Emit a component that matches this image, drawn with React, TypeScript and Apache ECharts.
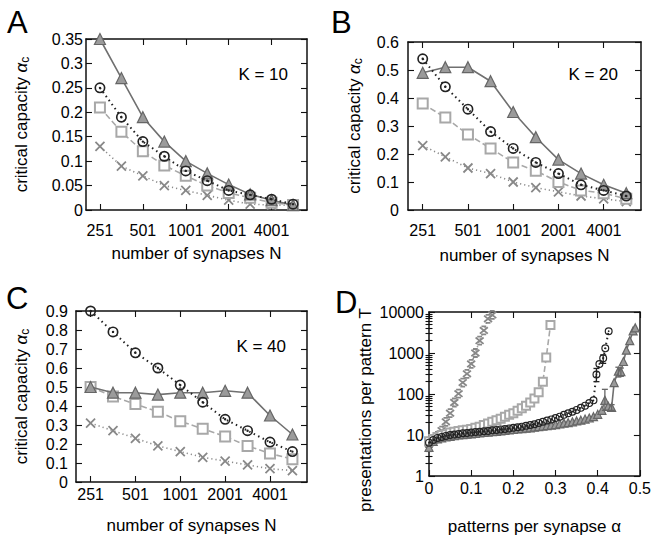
import React, { useEffect, useRef } from "react";
import * as echarts from "echarts";

// ---------- data ----------
const nCategories = ["251", "355", "501", "709", "1001", "1415", "2001", "2829", "4001", "5657"];
const nTickIndex = [0, 2, 4, 6, 8];

// Panel A (K = 10)
const aTri = [0.35, 0.27, 0.19, 0.14, 0.1, 0.075, 0.052, 0.032, 0.02, 0.01];
const aCirc = [0.25, 0.19, 0.14, 0.11, 0.08, 0.06, 0.04, 0.031, 0.022, 0.012];
const aSq = [0.21, 0.16, 0.12, 0.091, 0.07, 0.05, 0.035, 0.025, 0.015, 0.01];
const aCross = [0.13, 0.09, 0.07, 0.05, 0.04, 0.03, 0.02, 0.012, 0.01, 0.01];

// Panel B (K = 20)
const bTri = [0.49, 0.51, 0.51, 0.46, 0.35, 0.26, 0.18, 0.13, 0.09, 0.06];
const bCirc = [0.54, 0.44, 0.36, 0.28, 0.22, 0.17, 0.13, 0.09, 0.07, 0.05];
const bSq = [0.38, 0.33, 0.27, 0.22, 0.17, 0.14, 0.1, 0.07, 0.06, 0.04];
const bCross = [0.23, 0.19, 0.15, 0.13, 0.1, 0.08, 0.065, 0.05, 0.04, 0.03];

// Panel C (K = 40)
const cTri = [0.5, 0.47, 0.47, 0.46, 0.47, 0.47, 0.48, 0.47, 0.35, 0.25];
const cCirc = [0.9, 0.79, 0.68, 0.6, 0.51, 0.42, 0.33, 0.27, 0.21, 0.16];
const cSq = [0.5, 0.45, 0.41, 0.37, 0.32, 0.28, 0.24, 0.19, 0.15, 0.12];
const cCross = [0.31, 0.27, 0.23, 0.19, 0.16, 0.13, 0.11, 0.09, 0.07, 0.06];

// Panel D: [alpha, T]
const dCross = [
  [0, 6], [0.01, 7.5], [0.02, 9.5], [0.03, 12.8], [0.04, 21], [0.05, 34], [0.06, 62],
  [0.07, 102], [0.08, 190], [0.09, 310], [0.1, 540], [0.11, 1000], [0.12, 2000],
  [0.13, 3550], [0.14, 6800], [0.15, 8500],
];
const dSq = [
  [0, 7], [0.01, 8], [0.02, 9], [0.03, 10], [0.04, 10.5], [0.05, 11.5], [0.06, 12],
  [0.07, 12.5], [0.08, 13], [0.09, 13.5], [0.1, 14], [0.11, 15], [0.12, 16], [0.13, 17.5],
  [0.14, 19], [0.15, 21], [0.16, 23], [0.17, 25], [0.18, 28], [0.19, 31], [0.2, 34],
  [0.21, 39], [0.22, 45], [0.23, 52], [0.24, 62], [0.25, 78], [0.26, 110], [0.27, 200],
  [0.278, 780], [0.288, 4800],
];
const dCirc = [
  [0, 6.5], [0.01, 7.5], [0.02, 8.5], [0.03, 9], [0.04, 9.5], [0.05, 10], [0.06, 10.3],
  [0.07, 10.6], [0.08, 11], [0.09, 11.2], [0.1, 11.5], [0.11, 11.8], [0.12, 12], [0.13, 12.3],
  [0.14, 12.6], [0.15, 13], [0.16, 13.3], [0.17, 13.7], [0.18, 14], [0.19, 14.5], [0.2, 15],
  [0.21, 15.5], [0.22, 16], [0.23, 16.7], [0.24, 17.5], [0.25, 18.3], [0.26, 19.5], [0.27, 21],
  [0.28, 22.5], [0.29, 24], [0.3, 26], [0.31, 28], [0.32, 31], [0.33, 34], [0.34, 37],
  [0.35, 41], [0.36, 46], [0.37, 52], [0.38, 60], [0.39, 70], [0.397, 300], [0.404, 540],
  [0.413, 740], [0.418, 1300], [0.426, 3400],
];
const dTri = [
  [0, 5], [0.01, 7], [0.02, 8], [0.03, 8.5], [0.04, 9], [0.05, 9.3], [0.06, 9.6], [0.07, 10],
  [0.08, 10.2], [0.09, 10.5], [0.1, 10.7], [0.11, 11], [0.12, 11.2], [0.13, 11.5], [0.14, 11.8],
  [0.15, 12], [0.16, 12.3], [0.17, 12.6], [0.18, 13], [0.19, 13.3], [0.2, 13.6], [0.21, 14],
  [0.22, 14.3], [0.23, 14.7], [0.24, 15], [0.25, 15.5], [0.26, 16], [0.27, 16.5], [0.28, 17],
  [0.29, 17.5], [0.3, 18], [0.31, 18.7], [0.32, 19.5], [0.33, 20], [0.34, 21], [0.35, 22],
  [0.36, 23], [0.37, 24.5], [0.38, 26], [0.39, 28], [0.4, 32], [0.41, 40], [0.417, 70],
  [0.425, 50], [0.433, 47], [0.439, 190], [0.449, 360], [0.455, 350], [0.461, 620],
  [0.468, 1170], [0.476, 2000], [0.484, 3450], [0.489, 4100],
];
const dTriErr = [
  [0.417, 40, 130], [0.449, 260, 450], [0.455, 270, 430], [0.433, 40, 55],
];
const dCircErr = [
  [0.397, 200, 420], [0.413, 560, 900],
];

const dYTicks = [1, 10, 100, 1000, 10000];
const dYMinor = [2, 3, 4, 5, 6, 7, 8, 9, 20, 30, 40, 50, 60, 70, 80, 90, 200, 300, 400, 500, 600, 700, 800, 900, 2000, 3000, 4000, 5000, 6000, 7000, 8000, 9000];

// ---------- styles ----------
const FONT = "'Liberation Sans', Arial, Helvetica, sans-serif";
const AX = "#111";
const TICK_FS = 16;
const NAME_FS = 17;

const RING_DOT =
  "path://M10 0 A10 10 0 1 1 10 20 A10 10 0 1 1 10 0 Z M10 3 A7 7 0 1 0 10 17 A7 7 0 1 0 10 3 Z M10 7.8 A2.2 2.2 0 1 1 10 12.2 A2.2 2.2 0 1 1 10 7.8 Z";
const CROSS = "path://M0 0 L10 10 M10 0 L0 10";
const CROSS_BAR = "path://M0 1 L10 9 M10 1 L0 9 M2 0 L8 0 M2 10 L8 10";

const triStyle = (size: number) => ({
  symbol: "triangle",
  symbolSize: size,
  itemStyle: { color: "#9b9b9b", borderColor: "#666", borderWidth: 1.2 },
  lineStyle: { color: "#707070", width: 1.6, type: "solid" },
});
const circStyle = (size: number) => ({
  symbol: RING_DOT,
  symbolSize: size,
  itemStyle: { color: "#222" },
  lineStyle: { color: "#222", width: 2, type: [1.5, 3.5] },
});
const sqStyle = (size: number) => ({
  symbol: "emptyRect",
  symbolSize: size,
  itemStyle: { color: "#a8a8a8", borderWidth: 1.8 },
  lineStyle: { color: "#a8a8a8", width: 1.6, type: [6, 3] },
});
const crossStyle = (size: number, sym: string) => ({
  symbol: sym,
  symbolSize: size,
  itemStyle: { color: "#888", borderColor: "#888", borderWidth: 1.8 },
  lineStyle: { color: "#8a8a8a", width: 1.6, type: [1.2, 3] },
});

const lineAxis = { show: true, onZero: false, lineStyle: { color: AX, width: 1.5 } };
const tickBase = { show: true, inside: true, length: 6, lineStyle: { color: AX, width: 1.1 } };
const labelBase = { color: "#000", fontSize: TICK_FS, fontFamily: FONT };

const yNameRich = {
  fontFamily: FONT,
  color: "#000",
  rich: {
    t: { fontSize: NAME_FS, fontFamily: FONT, color: "#000", lineHeight: 20 },
    a: { fontSize: NAME_FS, fontFamily: FONT, color: "#000", fontStyle: "italic", lineHeight: 20 },
    s: { fontSize: 12, fontFamily: FONT, color: "#000", lineHeight: 12, verticalAlign: "bottom" },
  },
};

function catPanel(
  g: number,
  yMax: number,
  yInterval: number,
  yLabelMargin: number,
  xLabelMargin: number,
  xNameGap: number,
  yNameGap: number
) {
  const xAxes = [
    {
      type: "value",
      gridIndex: g,
      min: -0.65,
      max: 9.65,
      position: "bottom",
      axisLine: lineAxis,
      axisTick: { ...tickBase, customValues: nTickIndex },
      axisLabel: {
        ...labelBase,
        margin: xLabelMargin,
        customValues: nTickIndex,
        formatter: (v: number) => nCategories[Math.round(v)],
      },
      splitLine: { show: false },
      name: "number of synapses N",
      nameLocation: "middle",
      nameGap: xNameGap,
      nameTextStyle: { fontSize: NAME_FS, fontFamily: FONT, color: "#000" },
    },
    {
      type: "value",
      gridIndex: g,
      min: -0.65,
      max: 9.65,
      position: "top",
      axisLine: lineAxis,
      axisTick: { ...tickBase, customValues: nTickIndex },
      axisLabel: { show: false },
      splitLine: { show: false },
    },
  ];
  const yAxes = [
    {
      type: "value",
      gridIndex: g,
      min: 0,
      max: yMax,
      interval: yInterval,
      position: "left",
      axisLine: lineAxis,
      axisTick: tickBase,
      axisLabel: { ...labelBase, margin: yLabelMargin },
      splitLine: { show: false },
      name: "{t|critical capacity }{a|α}{s|c}",
      nameLocation: "middle",
      nameRotate: 90,
      nameGap: yNameGap,
      nameTextStyle: yNameRich,
    },
    {
      type: "value",
      gridIndex: g,
      min: 0,
      max: yMax,
      interval: yInterval,
      position: "right",
      axisLine: lineAxis,
      axisTick: tickBase,
      axisLabel: { show: false },
      splitLine: { show: false },
    },
  ];
  return { xAxes, yAxes };
}

function catSeries(g: number, tri: number[], circ: number[], sq: number[], cross: number[]) {
  const toPts = (arr: number[]) => arr.map((v, i) => [i, v]);
  const base = { type: "line", xAxisIndex: 2 * g, yAxisIndex: 2 * g, silent: true };
  return [
    { ...base, name: "cross", data: toPts(cross), ...crossStyle(9, CROSS), z: 2 },
    { ...base, name: "square", data: toPts(sq), ...sqStyle(10), z: 3 },
    { ...base, name: "triangle", data: toPts(tri), ...triStyle(11), z: 4 },
    { ...base, name: "circle", data: toPts(circ), ...circStyle(11), z: 5 },
  ];
}

function errSeries(data: number[][], color: string) {
  return {
    type: "custom",
    xAxisIndex: 6,
    yAxisIndex: 6,
    silent: true,
    z: 6,
    data,
    encode: { x: 0, y: [1, 2] },
    renderItem: (params: any, api: any) => {
      const x = api.value(0);
      const lo = api.coord([x, api.value(1)]);
      const hi = api.coord([x, api.value(2)]);
      const w = 3;
      const st = { stroke: color, lineWidth: 1.3 };
      return {
        type: "group",
        children: [
          { type: "line", shape: { x1: lo[0], y1: lo[1], x2: hi[0], y2: hi[1] }, style: st },
          { type: "line", shape: { x1: lo[0] - w, y1: lo[1], x2: lo[0] + w, y2: lo[1] }, style: st },
          { type: "line", shape: { x1: hi[0] - w, y1: hi[1], x2: hi[0] + w, y2: hi[1] }, style: st },
        ],
      };
    },
  };
}

function buildOption() {
  const A = catPanel(0, 0.35, 0.05, 3, 12, 35, 55);
  const B = catPanel(1, 0.6, 0.1, 9, 12, 37, 44);
  const C = catPanel(2, 0.9, 0.1, 8, 4, 35, 45);

  const dX = [
    {
      type: "value",
      gridIndex: 3,
      min: 0,
      max: 0.5,
      interval: 0.1,
      position: "bottom",
      axisLine: lineAxis,
      axisTick: tickBase,
      axisLabel: { ...labelBase, margin: 4, formatter: (v: number) => String(+v.toFixed(1)) },
      splitLine: { show: false },
      name: "patterns per synapse α",
      nameLocation: "middle",
      nameGap: 42,
      nameTextStyle: { fontSize: NAME_FS, fontFamily: FONT, color: "#000" },
    },
    {
      type: "value",
      gridIndex: 3,
      min: 0,
      max: 0.5,
      interval: 0.1,
      position: "top",
      axisLine: lineAxis,
      axisTick: tickBase,
      axisLabel: { show: false },
      splitLine: { show: false },
    },
  ];
  const dYBase = { type: "log", gridIndex: 3, min: 1, max: 10000, logBase: 10, splitLine: { show: false } };
  const dY = [
    {
      ...dYBase,
      position: "left",
      axisLine: lineAxis,
      axisTick: { ...tickBase, customValues: dYTicks },
      axisLabel: { ...labelBase, margin: 5, customValues: dYTicks, formatter: (v: number) => String(v) },
      name: "presentations per pattern T",
      nameLocation: "middle",
      nameRotate: 90,
      nameGap: 55,
      nameTextStyle: { fontSize: NAME_FS, fontFamily: FONT, color: "#000", padding: [0, 32, 0, 0] },
    },
    {
      ...dYBase,
      position: "right",
      axisLine: lineAxis,
      axisTick: { ...tickBase, customValues: dYTicks },
      axisLabel: { show: false },
    },
    {
      ...dYBase,
      position: "left",
      axisLine: { show: false },
      axisTick: { ...tickBase, length: 3.5, customValues: dYMinor },
      axisLabel: { show: false },
    },
    {
      ...dYBase,
      position: "right",
      axisLine: { show: false },
      axisTick: { ...tickBase, length: 3.5, customValues: dYMinor },
      axisLabel: { show: false },
    },
  ];

  const dBase = { type: "line", xAxisIndex: 6, yAxisIndex: 6, silent: true };
  const dSeries = [
    { ...dBase, name: "cross", data: dCross, ...crossStyle(8, CROSS_BAR), z: 2 },
    { ...dBase, name: "square", data: dSq, ...sqStyle(8), z: 3 },
    { ...dBase, name: "triangle", data: dTri, ...triStyle(8), z: 4 },
    { ...dBase, name: "circle", data: dCirc, ...circStyle(8), z: 5 },
    errSeries(dTriErr, "#666"),
    errSeries(dCircErr, "#222"),
  ];

  const letter = (t: string, x: number, y: number) => ({
    type: "text",
    x,
    y,
    style: { text: t, fontSize: 31, fontFamily: FONT, fill: "#000", textVerticalAlign: "middle", textAlign: "left" },
  });
  const klabel = (t: string, x: number, y: number) => ({
    type: "text",
    x,
    y,
    style: { text: t, fontSize: NAME_FS, fontFamily: FONT, fill: "#000", textVerticalAlign: "middle", textAlign: "right" },
  });

  return {
    animation: false,
    backgroundColor: "#fff",
    grid: [
      { left: 86, top: 39, width: 221, height: 171 },
      { left: 408, top: 42, width: 233, height: 168 },
      { left: 76, top: 311, width: 231, height: 171 },
      { left: 429, top: 312, width: 211, height: 170 },
    ],
    xAxis: [...A.xAxes, ...B.xAxes, ...C.xAxes, ...dX],
    yAxis: [...A.yAxes, ...B.yAxes, ...C.yAxes, ...dY],
    series: [
      ...catSeries(0, aTri, aCirc, aSq, aCross),
      ...catSeries(1, bTri, bCirc, bSq, bCross),
      ...catSeries(2, cTri, cCirc, cSq, cCross),
      ...dSeries,
    ],
    graphic: [
      letter("A", 7, 22),
      letter("B", 331, 22),
      letter("C", 6, 298),
      letter("D", 335, 302),
      klabel("K = 10", 288, 74),
      klabel("K = 20", 618, 74),
      klabel("K = 40", 286, 346),
    ],
  };
}

export default function App() {
  const ref = useRef<HTMLDivElement>(null);
  useEffect(() => {
    document.body.style.margin = "0";
    if (!ref.current) return;
    const chart = echarts.init(ref.current, null, { renderer: "svg" });
    chart.setOption(buildOption() as any);
    return () => chart.dispose();
  }, []);
  return <div ref={ref} style={{ width: 654, height: 536, position: "absolute", left: 0, top: 0 }} />;
}
